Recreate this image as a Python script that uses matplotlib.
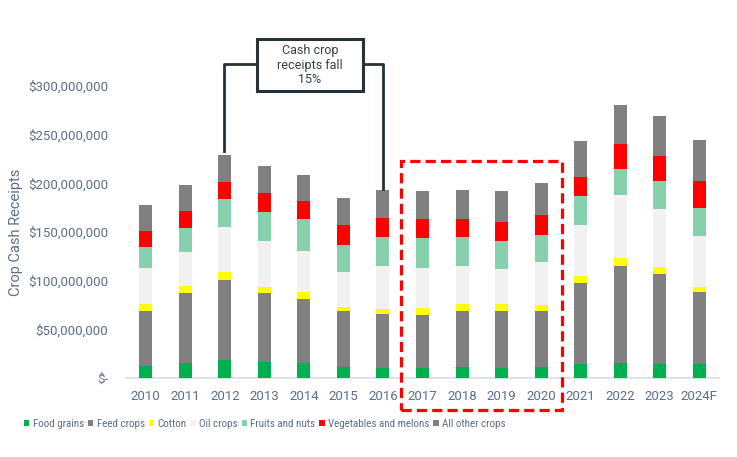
import matplotlib
matplotlib.use("Agg")
import matplotlib.pyplot as plt
from matplotlib.patches import Rectangle
from matplotlib.ticker import FuncFormatter
import numpy as np

plt.rcParams['font.family'] = ['Roboto', 'DejaVu Sans']

years = ["2010", "2011", "2012", "2013", "2014", "2015", "2016", "2017",
         "2018", "2019", "2020", "2021", "2022", "2023", "2024F"]
# values in millions of dollars
food_grains = [12.7, 15.1, 18.2, 16.1, 15.1, 11.0, 10.0, 10.3, 11.3, 10.3, 11.3, 14.4, 15.4, 14.4, 14.4]
feed_crops = [55.8, 71.9, 82.2, 70.9, 65.8, 57.5, 55.4, 54.4, 57.5, 58.5, 57.5, 83.2, 99.7, 92.5, 74.0]
cotton = [7.2, 7.2, 8.2, 6.2, 7.2, 4.1, 5.2, 7.2, 7.2, 7.2, 6.2, 7.2, 8.2, 7.1, 5.1]
oil_crops = [37.0, 34.9, 46.2, 47.2, 42.1, 36.0, 44.2, 41.1, 39.1, 36.0, 44.2, 52.4, 64.7, 59.6, 52.4]
fruits_nuts = [21.6, 24.7, 28.8, 29.8, 32.9, 27.7, 29.8, 30.8, 29.8, 28.8, 27.7, 29.8, 26.7, 28.8, 28.8]
veg_melons = [16.4, 17.5, 17.5, 19.6, 18.4, 20.6, 19.5, 19.6, 18.5, 19.5, 20.6, 19.5, 25.7, 25.7, 27.7]
all_other = [26.7, 26.7, 27.7, 27.7, 26.8, 27.7, 28.7, 28.7, 29.8, 31.8, 32.8, 37.0, 40.1, 41.1, 42.1]

series_names = ["Food grains", "Feed crops", "Cotton", "Oil crops", "Fruits and nuts",
                "Vegetables and melons", "All other crops"]
series_vals = [food_grains, feed_crops, cotton, oil_crops, fruits_nuts, veg_melons, all_other]
colors = ["#00b050", "#808080", "#ffff00", "#f1f1f1", "#86d0ad", "#ff0000", "#808080"]

annot_text = "Cash crop\nreceipts fall\n15%"

txt_col = "#5b6f84"

fig = plt.figure(figsize=(7.37, 4.57), dpi=100)
W, H = 737, 457
ax = fig.add_axes([126 / W, 1 - 378 / H, (719 - 126) / W, (378 - 86) / H])

x = np.arange(len(years))
bottom = np.zeros(len(years))
handles = []
for name, vals, c in zip(series_names, series_vals, colors):
    v = np.array(vals) * 1e6
    b = ax.bar(x, v, width=0.33, bottom=bottom, color=c, label=name, zorder=3)
    handles.append(b)
    bottom += v

ax.set_xlim(-0.5, len(years) - 0.5)
ax.set_ylim(0, 300e6)
ax.set_yticks(np.arange(0, 300e6 + 1, 50e6))
ax.yaxis.set_major_formatter(FuncFormatter(lambda v, p: "$-" if v == 0 else f"${v:,.0f}"))
ax.set_xticks(x)
ax.set_xticklabels(years)
ax.tick_params(axis='both', length=0, labelsize=9.5, labelcolor=txt_col)
ax.tick_params(axis='y', pad=13)
ax.tick_params(axis='x', pad=9)
for s in ["top", "right", "left"]:
    ax.spines[s].set_visible(False)
ax.spines["bottom"].set_color("#d6dde5")
ax.spines["bottom"].set_linewidth(1.2)
ax.set_ylabel("Crop Cash Receipts", fontsize=10.5, color=txt_col)
ax.yaxis.set_label_coords(-0.174, 0.5)

# dashed highlight box around 2017-2020
rect = Rectangle((6.45, -33e6), 10.52 - 6.45, 223e6 + 33e6, fill=False,
                 edgecolor="#ff0000", linestyle=(0, (3.2, 1.6)), linewidth=2.3,
                 clip_on=False, zorder=5)
ax.add_patch(rect)

# annotation box and connectors (figure pixel coordinates)
def fx(px):
    return px / W

def fy(py):
    return 1 - py / H

lc = "#263238"
fig.add_artist(Rectangle((fx(257), fy(91)), (363 - 257) / W, (91 - 39) / H,
                         transform=fig.transFigure, fill=True, facecolor="white",
                         edgecolor=lc, linewidth=2.2, zorder=6))
fig.text(fx(310), fy(65), annot_text, ha="center", va="center", fontsize=9,
         color="#333f48", linespacing=1.15, zorder=7)
fig.add_artist(plt.Line2D([fx(257), fx(224), fx(224)], [fy(64), fy(64), fy(151)],
                          transform=fig.transFigure, color=lc, linewidth=2, zorder=6))
fig.add_artist(plt.Line2D([fx(363), fx(382.5), fx(382.5)], [fy(64), fy(64), fy(189)],
                          transform=fig.transFigure, color=lc, linewidth=2, zorder=6))

leg = fig.legend(handles=handles, labels=series_names, loc="center left",
                 bbox_to_anchor=(24 / W, 1 - 424 / H), ncol=7, frameon=False,
                 prop={'family': ['Roboto Condensed', 'Roboto'], 'size': 7.9},
                 handlelength=0.5, handleheight=0.55,
                 handletextpad=0.3, columnspacing=0.35, borderaxespad=0,
                 borderpad=0)
for t in leg.get_texts():
    t.set_color(txt_col)

fig.savefig("out.png", dpi=100)
